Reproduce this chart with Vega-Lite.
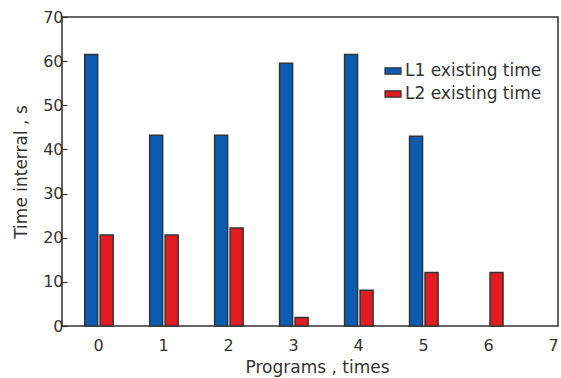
{
  "$schema": "https://vega.github.io/schema/vega-lite/v6.json",
  "width": 496,
  "height": 309,
  "autosize": {"type": "none"},
  "padding": {"left": 62, "top": 17, "right": 3, "bottom": 52},
  "background": "white",
  "config": {
    "view": {"stroke": "#333333", "strokeWidth": 1.5},
    "font": "DejaVu Sans"
  },
  "data": {
    "values": [
      {"program": 0, "series": "L1 existing time", "value": 61.5},
      {"program": 1, "series": "L1 existing time", "value": 43.2},
      {"program": 2, "series": "L1 existing time", "value": 43.2},
      {"program": 3, "series": "L1 existing time", "value": 59.5},
      {"program": 4, "series": "L1 existing time", "value": 61.5},
      {"program": 5, "series": "L1 existing time", "value": 43.0},
      {"program": 0, "series": "L2 existing time", "value": 20.6},
      {"program": 1, "series": "L2 existing time", "value": 20.6},
      {"program": 2, "series": "L2 existing time", "value": 22.2},
      {"program": 3, "series": "L2 existing time", "value": 1.9},
      {"program": 4, "series": "L2 existing time", "value": 8.1},
      {"program": 5, "series": "L2 existing time", "value": 12.1},
      {"program": 6, "series": "L2 existing time", "value": 12.1}
    ]
  },
  "encoding": {
    "x": {
      "field": "program",
      "type": "quantitative",
      "scale": {"domain": [-0.48, 7], "nice": false, "zero": false},
      "axis": {
        "values": [0, 1, 2, 3, 4, 5, 6, 7],
        "format": "d",
        "title": "Programs , times",
        "grid": false,
        "ticks": false,
        "domain": false,
        "labelFlush": false,
        "labelOverlap": false,
        "labelFontSize": 16,
        "labelColor": "#333333",
        "labelPadding": 11,
        "titleFontSize": 17,
        "titleFontWeight": "normal",
        "titleColor": "#333333",
        "titlePadding": 6,
        "titleX": 255
      }
    },
    "y": {
      "field": "value",
      "type": "quantitative",
      "scale": {"domain": [0, 70], "nice": false},
      "axis": {
        "values": [0, 10, 20, 30, 40, 50, 60, 70],
        "title": "Time interral , s",
        "grid": false,
        "domain": false,
        "tickSize": -5,
        "tickColor": "#333333",
        "tickWidth": 1.2,
        "labelFlush": false,
        "labelOverlap": false,
        "labelFontSize": 16,
        "labelColor": "#333333",
        "labelPadding": 4,
        "titleFontSize": 17,
        "titleFontWeight": "normal",
        "titleColor": "#333333",
        "titlePadding": 12
      }
    },
    "color": {
      "field": "series",
      "type": "nominal",
      "scale": {"domain": ["L1 existing time", "L2 existing time"], "range": ["#0b5db3", "#e31b23"]},
      "legend": {
        "title": null,
        "orient": "none",
        "legendX": 322,
        "legendY": 45,
        "padding": 0,
        "symbolType": "M-1,-0.4H1V0.4H-1Z",
        "symbolSize": 256,
        "symbolStrokeColor": "#333333",
        "symbolStrokeWidth": 1.2,
        "symbolOpacity": 1,
        "labelFontSize": 17,
        "labelColor": "#333333",
        "labelOffset": 3,
        "rowPadding": 6
      }
    }
  },
  "layer": [
    {
      "transform": [{"filter": "datum.series == 'L1 existing time'"}],
      "mark": {"type": "bar", "width": 13, "xOffset": -7, "stroke": "#333333", "strokeWidth": 1.5, "opacity": 1}
    },
    {
      "transform": [{"filter": "datum.series == 'L2 existing time'"}],
      "mark": {"type": "bar", "width": 13, "xOffset": 8.5, "stroke": "#333333", "strokeWidth": 1.5, "opacity": 1}
    }
  ]
}
